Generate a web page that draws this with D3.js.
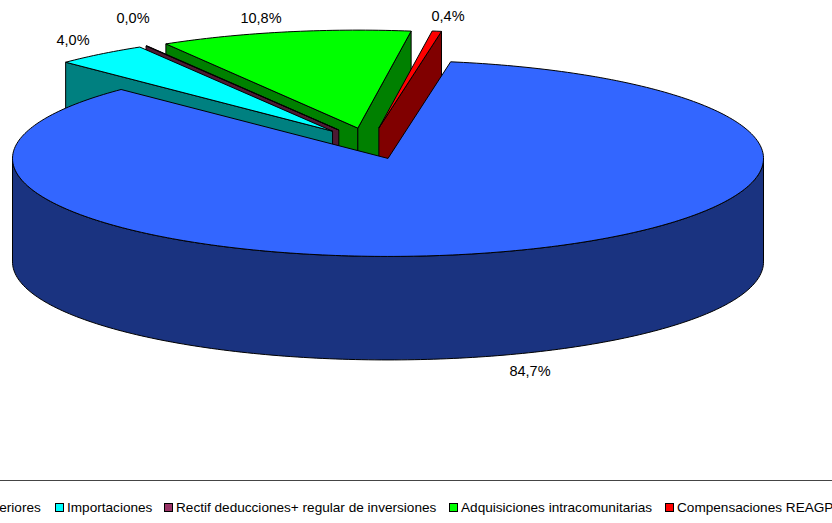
<!DOCTYPE html>
<html>
<head>
<meta charset="utf-8">
<script src="https://cdn.jsdelivr.net/npm/d3@7"></script>
<style>
  html, body { margin: 0; padding: 0; background: #fff; overflow: hidden; }
  svg { display: block; }
  text { font-family: "Liberation Sans", Arial, sans-serif; fill: #000; }
</style>
</head>
<body>
<svg id="chart" width="832" height="523"></svg>
<script>
// data
const categories = ["Operaciones interiores", "Importaciones", "Rectif deducciones+ regular de inversiones", "Adquisiciones intracomunitarias", "Compensaciones REAGP"];
const values = [84.7, 4.0, 0.04, 10.8, 0.4];
const topColors = ["#3366FF", "#00FFFF", "#993366", "#00FF00", "#FF0000"];
const sideColors = ["#1A3380", "#008080", "#4D1A33", "#008000", "#800000"];

// layout
const width = 832, height = 523;
const cx = 369.6, cy = 143.5, rx = 375.5, ry = 98;
const depth = 103.5, explode = 0.16;
const startDeg = 9.6;
const labelPos = [[530, 376], [73, 45], [133, 23], [261, 23], [448, 21]];
const legendX = [-108, 55, 164, 449, 665];

const svg = d3.select("#chart");
const rad = d => d * Math.PI / 180;

// unit circle -> screen, tilted like the 3d pie
const xScale = d3.scaleLinear().domain([-1, 1]).range([cx - rx, cx + rx]);
const yScale = d3.scaleLinear().domain([-1, 1]).range([cy + ry, cy - ry]);

const pie = d3.pie().sort(null)
  .startAngle(rad(startDeg))
  .endAngle(rad(startDeg) + 2 * Math.PI);
const slices = pie(values);
const fmt = d3.formatLocale({ decimal: ",", thousands: ".", grouping: [3], currency: ["", ""] }).format(".1f");
const line = d3.line();

function project(s, angle, r, drop) {
  const mid = (s.startAngle + s.endAngle) / 2;
  const ux = r * Math.sin(angle) + explode * Math.sin(mid);
  const uy = r * Math.cos(angle) + explode * Math.cos(mid);
  return [xScale(ux), yScale(uy) + (drop || 0)];
}

function arcPoints(s, a0, a1, drop) {
  const n = Math.max(2, Math.ceil((a1 - a0) / rad(1)));
  return d3.range(n + 1).map(i => project(s, a0 + (a1 - a0) * i / n, 1, drop));
}

function edgeWall(s, angle) {
  return line([project(s, 0, 0), project(s, angle, 1), project(s, angle, 1, depth), project(s, 0, 0, depth)]) + "Z";
}

// back slices first, the big one goes on top
const drawOrder = [3, 4, 2, 1, 0];
drawOrder.forEach(i => {
  const s = slices[i];
  const g = svg.append("g").attr("class", "slice")
    .attr("stroke", "#000").attr("stroke-width", 1).attr("stroke-linejoin", "round");

  if (Math.sin(s.startAngle) < 0) {
    g.append("path").attr("d", edgeWall(s, s.startAngle)).attr("fill", sideColors[i]);
  }
  if (Math.sin(s.endAngle) > 0) {
    g.append("path").attr("d", edgeWall(s, s.endAngle)).attr("fill", sideColors[i]);
  }

  // outer wall, only the front half of the rim shows
  const a0 = Math.max(s.startAngle, Math.PI / 2);
  const a1 = Math.min(s.endAngle, 3 * Math.PI / 2);
  if (a1 > a0) {
    const pts = arcPoints(s, a0, a1, 0).concat(arcPoints(s, a0, a1, depth).reverse());
    g.append("path").attr("d", line(pts) + "Z").attr("fill", sideColors[i]);
  }

  const face = [project(s, 0, 0)].concat(arcPoints(s, s.startAngle, s.endAngle, 0));
  g.append("path").attr("d", line(face) + "Z").attr("fill", topColors[i]);
});

// percentage labels
svg.append("g").selectAll("text")
  .data(slices)
  .enter().append("text")
  .attr("x", (d, i) => labelPos[i][0])
  .attr("y", (d, i) => labelPos[i][1])
  .attr("text-anchor", "middle")
  .style("font-size", "14.5px")
  .text(d => fmt(d.value) + "%");

// legend, box runs past the page
svg.append("line")
  .attr("x1", 0).attr("x2", width)
  .attr("y1", 480.5).attr("y2", 480.5)
  .attr("stroke", "#444").attr("stroke-width", 1);

const legend = svg.append("g").attr("class", "legend");
legend.selectAll("rect")
  .data(categories)
  .enter().append("rect")
  .attr("x", (d, i) => legendX[i] + 0.5)
  .attr("y", 503.5)
  .attr("width", 8)
  .attr("height", 8)
  .attr("fill", (d, i) => topColors[i])
  .attr("stroke", "#000");
legend.selectAll("text")
  .data(categories)
  .enter().append("text")
  .attr("x", (d, i) => legendX[i] + 12)
  .attr("y", 512)
  .style("font-size", "13.6px")
  .text(d => d);
</script>
</body>
</html>
